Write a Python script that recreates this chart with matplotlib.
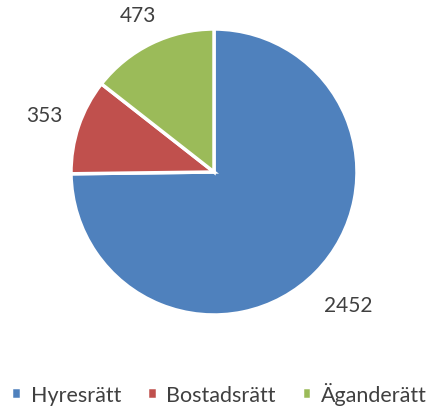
import matplotlib
matplotlib.use("Agg")
import matplotlib.pyplot as plt
import numpy as np

categories = ["Hyresrätt", "Bostadsrätt", "Äganderätt"]
values = [2452, 353, 473]
colors = ["#4F81BD", "#C0504D", "#9BBB59"]
label_dist = [1.32, 1.25, 1.22]

plt.rcParams['font.family'] = ['Lato', 'DejaVu Sans']

fig = plt.figure(figsize=(4.38, 4.10), dpi=100)
# pie centre ~ (214,173) px, radius ~143 px
ax = fig.add_axes([(214 - 143) / 438, (410 - 173 - 143) / 410, 286 / 438, 286 / 410])
wedges, _ = ax.pie(values, colors=colors, startangle=90, counterclock=False,
                   wedgeprops=dict(edgecolor="white", linewidth=2.5))
for w, v, d in zip(wedges, values, label_dist):
    ang = np.deg2rad((w.theta1 + w.theta2) / 2)
    ax.text(d * np.cos(ang), d * np.sin(ang), str(v), ha="center", va="center",
            fontsize=15, color="#404040")
ax.set_xlim(-1, 1)
ax.set_ylim(-1, 1)

fig.legend(wedges, categories, loc="lower center", bbox_to_anchor=(0.5, 0.0),
           borderaxespad=0.0, borderpad=0.2,
           ncol=3, frameon=False, handlelength=0.45, handleheight=0.45,
           handletextpad=0.45, columnspacing=1.2,
           prop=dict(size=15.5), labelcolor="#404040")

fig.savefig("out.png", dpi=100)
